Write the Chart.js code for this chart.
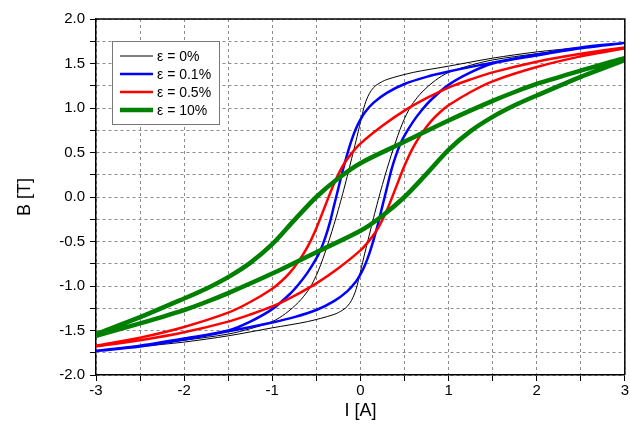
<!DOCTYPE html>
<html lang="en">
<head>
    <meta charset="UTF-8">
    <title>B-I hysteresis loops</title>

    <!-- Chart.js Library -->
    <script src="https://cdn.jsdelivr.net/npm/chart.js"></script>

    <style>
        body {
            margin: 0;
            background: #fff;
        }

        #wrap {
            width: 630px;
            height: 440px;
        }
    </style>
</head>

<body>
    <div id="wrap"><canvas id="loops" width="630" height="440"></canvas></div>

    <script>
        // Current I [A] and flux density B [T].
        // "Low" = rising branch (-3 -> 3), "Up" = falling branch (3 -> -3).

        // eps = 0%
        const eps0LowI = [-3, -2.5, -2, -1.5, -1, -0.6, -0.3, -0.2, -0.15, -0.1, -0.05, 0, 0.05, 0.1, 0.15, 0.2, 0.25, 0.3, 0.35, 0.4, 0.45, 0.5, 0.55, 0.6, 0.7, 0.85, 1, 1.25, 1.5, 2, 2.5, 3];
        const eps0LowB = [-1.73, -1.68, -1.63, -1.56, -1.47, -1.4, -1.32, -1.27, -1.23, -1.16, -1.04, -0.84, -0.63, -0.43, -0.23, -0.04, 0.14, 0.31, 0.47, 0.62, 0.76, 0.88, 0.98, 1.06, 1.18, 1.31, 1.4, 1.48, 1.54, 1.61, 1.67, 1.73];
        const eps0UpI = [2.5, 2, 1.5, 1, 0.6, 0.3, 0.2, 0.15, 0.1, 0.05, 0, -0.05, -0.1, -0.15, -0.2, -0.25, -0.3, -0.35, -0.4, -0.45, -0.5, -0.55, -0.6, -0.7, -0.85, -1, -1.25, -1.5, -2, -2.5, -3];
        const eps0UpB = [1.68, 1.63, 1.56, 1.47, 1.4, 1.32, 1.27, 1.23, 1.16, 1.04, 0.84, 0.63, 0.43, 0.23, 0.04, -0.14, -0.31, -0.47, -0.62, -0.76, -0.88, -0.98, -1.06, -1.18, -1.31, -1.4, -1.48, -1.54, -1.61, -1.67, -1.73];

        // eps = 0.1%
        const eps01LowI = [-3, -2.5, -2, -1.5, -1, -0.75, -0.5, -0.3, -0.15, -0.05, 0, 0.05, 0.1, 0.15, 0.2, 0.25, 0.3, 0.35, 0.4, 0.45, 0.5, 0.6, 0.7, 0.8, 1, 1.25, 1.5, 2, 2.5, 3];
        const eps01LowB = [-1.73, -1.68, -1.6, -1.51, -1.41, -1.35, -1.27, -1.17, -1.06, -0.95, -0.87, -0.77, -0.64, -0.48, -0.3, -0.1, 0.1, 0.3, 0.46, 0.59, 0.69, 0.85, 0.98, 1.09, 1.26, 1.4, 1.5, 1.59, 1.67, 1.73];
        const eps01UpI = [2.5, 2, 1.5, 1, 0.75, 0.5, 0.3, 0.15, 0.05, 0, -0.05, -0.1, -0.15, -0.2, -0.25, -0.3, -0.35, -0.4, -0.45, -0.5, -0.6, -0.7, -0.8, -1, -1.25, -1.5, -2, -2.5, -3];
        const eps01UpB = [1.68, 1.6, 1.51, 1.41, 1.35, 1.27, 1.17, 1.06, 0.95, 0.87, 0.77, 0.64, 0.48, 0.3, 0.1, -0.1, -0.3, -0.46, -0.59, -0.69, -0.85, -0.98, -1.09, -1.26, -1.4, -1.5, -1.59, -1.67, -1.73];

        // eps = 0.5%
        const eps05LowI = [-3, -2.5, -2, -1.5, -1.25, -1, -0.75, -0.5, -0.25, 0, 0.1, 0.2, 0.3, 0.4, 0.5, 0.6, 0.7, 0.8, 0.9, 1, 1.25, 1.5, 2, 2.5, 3];
        const eps05LowB = [-1.68, -1.61, -1.52, -1.4, -1.32, -1.23, -1.11, -0.97, -0.8, -0.6, -0.49, -0.35, -0.15, 0.1, 0.35, 0.56, 0.72, 0.85, 0.95, 1.03, 1.18, 1.3, 1.46, 1.58, 1.67];
        const eps05UpI = [3, 2.5, 2, 1.5, 1.25, 1, 0.75, 0.5, 0.25, 0, -0.1, -0.2, -0.3, -0.4, -0.5, -0.6, -0.7, -0.8, -0.9, -1, -1.25, -1.5, -2, -2.5, -3];
        const eps05UpB = [1.68, 1.61, 1.52, 1.4, 1.32, 1.23, 1.11, 0.97, 0.8, 0.6, 0.49, 0.35, 0.15, -0.1, -0.35, -0.56, -0.72, -0.85, -0.95, -1.03, -1.18, -1.3, -1.46, -1.58, -1.67];

        // eps = 10%
        const eps10LowI = [-3, -2.5, -2, -1.75, -1.5, -1, -0.5, 0, 0.25, 0.5, 0.75, 1, 1.25, 1.5, 1.75, 2, 2.5, 3];
        const eps10LowB = [-1.56, -1.42, -1.27, -1.18, -1.08, -0.86, -0.62, -0.38, -0.21, 0, 0.26, 0.53, 0.74, 0.9, 1.03, 1.14, 1.35, 1.54];
        const eps10UpI = [3, 2.5, 2, 1.75, 1.5, 1, 0.5, 0, -0.25, -0.5, -0.75, -1, -1.25, -1.5, -1.75, -2, -2.5, -3];
        const eps10UpB = [1.56, 1.42, 1.27, 1.18, 1.08, 0.86, 0.62, 0.38, 0.21, 0, -0.26, -0.53, -0.74, -0.9, -1.03, -1.14, -1.35, -1.54];

        const seriesNames = ['ε = 0%', 'ε = 0.1%', 'ε = 0.5%', 'ε = 10%'];

        const FONT = '"Liberation Sans", Arial, sans-serif';

        function toPoints(xs, ys) {
            return xs.map((x, k) => ({ x: x, y: ys[k] }));
        }

        function loop(name, lowI, lowB, upI, upB, color, width, order) {
            return {
                label: name,
                data: toPoints(lowI, lowB).concat(toPoints(upI, upB)),
                borderColor: color,
                backgroundColor: color,
                borderWidth: width,
                showLine: true,
                pointRadius: 0,
                tension: 0.3,
                order: order
            };
        }

        // frame on top/right + boxed legend inside the plot
        const framePlugin = {
            id: 'frameAndLegend',
            afterDraw(chart) {
                const ctx = chart.ctx;
                const a = chart.chartArea;
                ctx.save();
                ctx.strokeStyle = '#000';
                ctx.lineWidth = 1.5;
                ctx.beginPath();
                ctx.moveTo(a.left, a.top);
                ctx.lineTo(a.right, a.top);
                ctx.lineTo(a.right, a.bottom);
                ctx.stroke();

                // legend box
                ctx.fillStyle = '#fff';
                ctx.strokeStyle = '#777';
                ctx.lineWidth = 1;
                ctx.fillRect(112.5, 41.5, 107, 83);
                ctx.strokeRect(112.5, 41.5, 107, 83);

                ctx.font = '14px ' + FONT;
                ctx.textBaseline = 'middle';
                chart.data.datasets.forEach((ds, k) => {
                    const y = 56 + k * 18;
                    ctx.strokeStyle = ds.borderColor;
                    ctx.lineWidth = ds.borderWidth;
                    ctx.beginPath();
                    ctx.moveTo(120, y);
                    ctx.lineTo(153, y);
                    ctx.stroke();
                    ctx.fillStyle = '#000';
                    ctx.fillText(ds.label, 157, y + 1);
                });
                ctx.restore();
            }
        };

        const isStep = (v, s) => Math.abs(v / s - Math.round(v / s)) < 1e-6;

        new Chart(document.getElementById('loops'), {
            type: 'scatter',
            data: {
                datasets: [
                    loop(seriesNames[0], eps0LowI, eps0LowB, eps0UpI, eps0UpB, '#000000', 1, 3),
                    loop(seriesNames[1], eps01LowI, eps01LowB, eps01UpI, eps01UpB, '#0000ff', 2.5, 2),
                    loop(seriesNames[2], eps05LowI, eps05LowB, eps05UpI, eps05UpB, '#ff0000', 2.5, 1),
                    loop(seriesNames[3], eps10LowI, eps10LowB, eps10UpI, eps10UpB, '#008000', 4.5, 0)
                ]
            },
            options: {
                responsive: false,
                animation: false,
                layout: { padding: { top: 19, right: 3, left: 0, bottom: 0 } },
                plugins: { legend: { display: false }, tooltip: { enabled: false } },
                scales: {
                    x: {
                        type: 'linear',
                        min: -3,
                        max: 3,
                        afterFit: s => { s.height = 65; },
                        ticks: {
                            stepSize: 0.5,
                            autoSkip: false,
                            maxRotation: 0,
                            padding: 1,
                            color: '#000',
                            font: { family: FONT, size: 15 },
                            callback: v => isStep(v, 1) ? String(Math.round(v)) : ''
                        },
                        grid: { color: '#8c8c8c', tickColor: '#000', tickLength: 6, tickBorderDash: [] },
                        border: { color: '#000', width: 1.5, dash: [3, 3] },
                        title: { display: true, text: 'I [A]', color: '#000', font: { family: FONT, size: 18 }, padding: { bottom: 18 } }
                    },
                    y: {
                        type: 'linear',
                        min: -2,
                        max: 2,
                        afterFit: s => { s.width = 96; },
                        ticks: {
                            stepSize: 0.25,
                            autoSkip: false,
                            padding: 5,
                            color: '#000',
                            font: { family: FONT, size: 15 },
                            callback: v => isStep(v, 0.5) ? v.toFixed(1) : ''
                        },
                        grid: { color: '#8c8c8c', tickColor: '#000', tickLength: 6, tickBorderDash: [] },
                        border: { color: '#000', width: 1.5, dash: [3, 3] },
                        title: { display: true, text: 'B [T]', color: '#000', font: { family: FONT, size: 18 }, padding: { top: 14 } }
                    }
                }
            },
            plugins: [framePlugin]
        });
    </script>
</body>
</html>
